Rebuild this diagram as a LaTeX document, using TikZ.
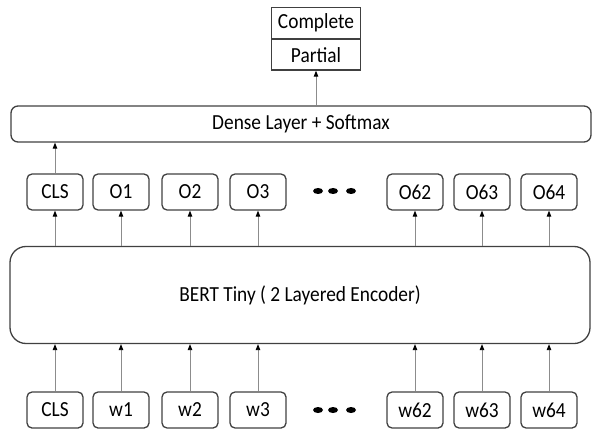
\documentclass[tikz,border=0pt]{standalone}
\usepackage{fontspec}
\setmainfont{Carlito}[FakeStretch=0.9]
\usetikzlibrary{arrows.meta}

\tikzset{
  txt/.style={font=\fontsize{21.5}{24}\selectfont},
  boxline/.style={draw=black!75, line width=1.3pt},
  tokbox/.style={boxline, txt, rounded corners=5pt, minimum width=56pt, minimum height=36pt,
                 inner sep=0pt},
  labbox/.style={boxline, txt, minimum width=89pt, minimum height=30.5pt, inner sep=0pt},
  wide/.style={boxline, txt, minimum width=580pt, inner sep=0pt},
  flow/.style={draw=black!45, line width=0.9pt,
               -{Triangle[length=6pt,width=4.5pt,fill=black,color=black]}},
  dot/.style={fill=black, draw=none}
}

\begin{document}
\begin{tikzpicture}[x=1pt, y=-1pt]
  \useasboundingbox (0,0) rectangle (593,430);

  % output classes
  \node[labbox] (complete) at (316,23) {Complete};
  \node[labbox, anchor=north] (partial) at (complete.south) {Partial};

  % classifier head
  \node[wide, rounded corners=7pt, minimum height=36pt] (dense) at (301,124) {Dense Layer + Softmax};

  % encoder
  \node[wide, rounded corners=16pt, minimum height=97pt] (bert) at (300,295) {BERT Tiny ( 2 Layered Encoder)};

  % encoder outputs and inputs
  \foreach \n/\x/\o/\w in {c/55/CLS/CLS, a/121/O1/w1, b/190/O2/w2, d/258/O3/w3,
                           p/415/O62/w62, q/482/O63/w63, r/549/O64/w64} {
    \node[tokbox] (out\n) at (\x,192) {\o};
    \node[tokbox] (in\n) at (\x,410) {\w};
    \draw[flow] (in\n.north) -- (in\n.north |- bert.south);
    \draw[flow] (out\n.south |- bert.north) -- (out\n.south);
  }

  % ellipsis marks
  \foreach \y in {191,410} {
    \foreach \x in {318,333,351} {
      \fill[dot] (\x,\y) ellipse (5pt and 3pt);
    }
  }

  \draw[flow] (outc.north) -- (outc.north |- dense.south);
  \draw[flow] (partial.south |- dense.north) -- (partial.south);
\end{tikzpicture}
\end{document}
